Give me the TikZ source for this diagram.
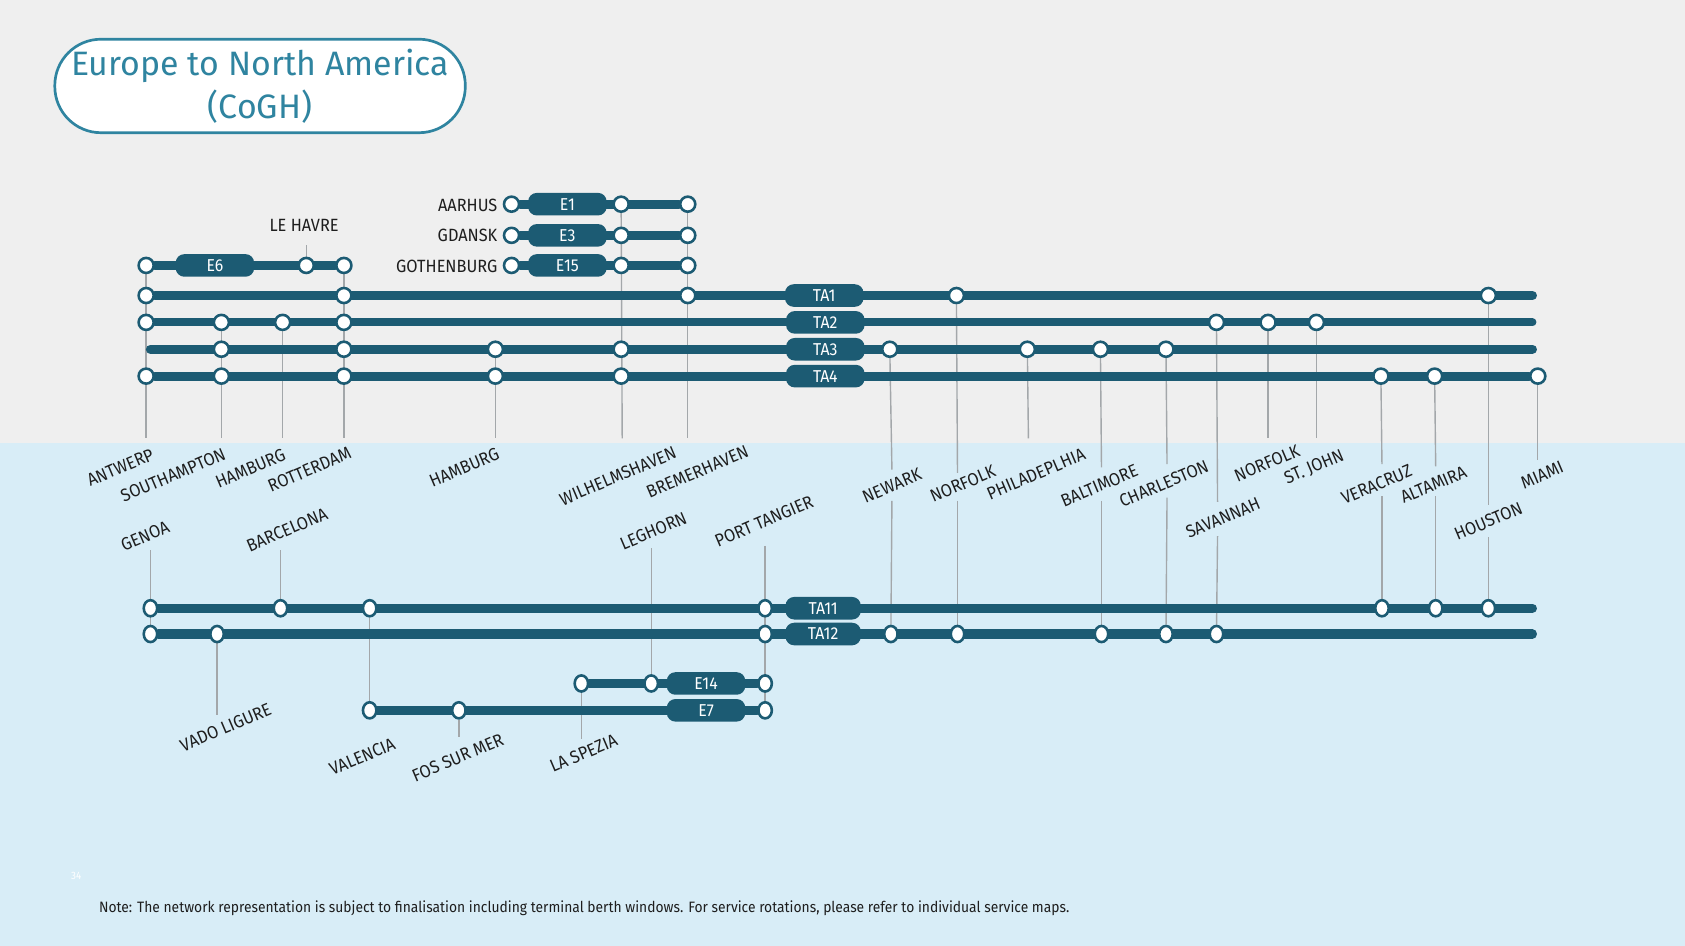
\documentclass[tikz,border=0pt]{standalone}
\usepackage{fontspec}
\setmainfont{Fira Sans}
\newfontfamily\condfont{Fira Sans}[FakeStretch=0.92]
\usetikzlibrary{shapes.geometric}

\definecolor{routeblue}{HTML}{1C5B73}
\definecolor{titleblue}{HTML}{2F84A0}
\definecolor{tickgray}{HTML}{A3A7AA}
\definecolor{portink}{HTML}{1E1E1E}
\definecolor{topgray}{HTML}{EFEFEF}
\definecolor{seablue}{HTML}{D8EDF7}

\pgfdeclarelayer{bg}
\pgfsetlayers{bg,main}

\tikzset{
  stop/.style={circle, draw=routeblue, fill=white, line width=2.4pt, minimum size=14pt, inner sep=0pt},
  lowstop/.style={ellipse, draw=routeblue, fill=white, line width=2.4pt, minimum width=12.5pt, minimum height=15pt, inner sep=0pt},
  route/.style={routeblue, line width=8.5pt, line cap=round},
  tick/.style={tickgray, line width=1.3pt},
  tag/.style={fill=routeblue, text=white, rounded corners=8pt, minimum width=73pt, minimum height=21pt, inner sep=0pt, font=\condfont\fontsize{16}{16}\selectfont},
  port/.style={rotate=23, text=portink, inner sep=0pt, font=\condfont\fontsize{16.5}{17}\selectfont},
  portflat/.style={text=portink, inner sep=0pt, font=\condfont\fontsize{16.5}{17}\selectfont},
}

\begin{document}
\begin{tikzpicture}[x=1pt, y=-1pt]
  \useasboundingbox (0,0) rectangle (1568,880);

  % title
  \node[draw=titleblue, line width=2.5pt, rounded corners=43pt, fill=white, minimum width=382pt, minimum height=87pt,
        align=center, text=titleblue, font=\fontsize{31.5}{40}\selectfont] (title) at (242,80) {Europe to North America\\(CoGH)};

  % northern feeders
  \foreach \n/\x in {aarhus/476, wilhelmshaven/578, bremerhaven/640} {
    \node[stop] (e1-\n) at (\x,190) {};
    \node[stop] (e3-\n) at (\x,219) {};
    \node[stop] (e15-\n) at (\x,247) {};
  }
  \node[tag] (e1-tag) at (528,190) {E1};
  \node[tag] (e3-tag) at (528,219) {E3};
  \node[tag] (e15-tag) at (528,247) {E15};
  \node[portflat, anchor=east] (l-aarhus) at (463,191) {AARHUS};
  \node[portflat, anchor=east] (l-gdansk) at (463,219) {GDANSK};
  \node[portflat, anchor=east] (l-gothenburg) at (463,248) {GOTHENBURG};

  \foreach \n/\x in {antwerp/136, lehavre/285, rotterdam/320}
    \node[stop] (e6-\n) at (\x,247) {};
  \node[tag] (e6-tag) at (200,247) {E6};
  \node[portflat] (l-lehavre) at (283,210) {LE HAVRE};

  % transatlantic loops
  \foreach \n/\x in {antwerp/136, rotterdam/320, bremerhaven/640, norfolk/890, houston/1385}
    \node[stop] (ta1-\n) at (\x,275) {};
  \foreach \n/\x in {antwerp/136, southampton/206, hamburg/263, rotterdam/320, savannah/1132, norfolk/1180, stjohn/1225}
    \node[stop] (ta2-\n) at (\x,300) {};
  \foreach \n/\x in {southampton/206, rotterdam/320, hamburg/461, wilhelmshaven/578, newark/828, philadelphia/956, baltimore/1024, charleston/1085}
    \node[stop] (ta3-\n) at (\x,325) {};
  \foreach \n/\x in {antwerp/136, southampton/206, rotterdam/320, hamburg/461, wilhelmshaven/578, veracruz/1285, altamira/1335, miami/1431}
    \node[stop] (ta4-\n) at (\x,350) {};
  \node[tag] (ta1-tag) at (767,275) {TA1};
  \node[tag] (ta2-tag) at (768,300) {TA2};
  \node[tag] (ta3-tag) at (768,325) {TA3};
  \node[tag] (ta4-tag) at (768,350) {TA4};

  % mediterranean loops
  \foreach \n/\x in {genoa/140, barcelona/261, valencia/344, tangier/712, veracruz/1286, altamira/1336, houston/1385}
    \node[lowstop] (ta11-\n) at (\x,566) {};
  \foreach \n/\x in {genoa/140, vado/202, tangier/712, newark/829, norfolk/891, baltimore/1025, charleston/1085, savannah/1132}
    \node[lowstop] (ta12-\n) at (\x,590) {};
  \foreach \n/\x in {laspezia/541, leghorn/606, tangier/712}
    \node[lowstop] (e14-\n) at (\x,636) {};
  \foreach \n/\x in {valencia/344, fos/427, tangier/712}
    \node[lowstop] (e7-\n) at (\x,661) {};
  \node[tag, minimum width=70pt] (ta11-tag) at (766,566) {TA11};
  \node[tag, minimum width=70pt] (ta12-tag) at (766,590) {TA12};
  \node[tag] (e14-tag) at (657,636) {E14};
  \node[tag] (e7-tag) at (657,661) {E7};

  % port names
  \node[port] (l-antwerp) at (112,435) {ANTWERP};
  \node[port] (l-southampton) at (161,442) {SOUTHAMPTON};
  \node[port] (l-hamburg) at (233,436) {HAMBURG};
  \node[port] (l-rotterdam) at (288,437) {ROTTERDAM};
  \node[port] (l-hamburg2) at (432,435) {HAMBURG};
  \node[port] (l-wilhelmshaven) at (575,443) {WILHELMSHAVEN};
  \node[port] (l-bremerhaven) at (649,439) {BREMERHAVEN};
  \node[port] (l-newark) at (830,452) {NEWARK};
  \node[port] (l-norfolk) at (896,450) {NORFOLK};
  \node[port] (l-philadelphia) at (964,441) {PHILADEPLHIA};
  \node[port] (l-baltimore) at (1023,452) {BALTIMORE};
  \node[port] (l-charleston) at (1083,450) {CHARLESTON};
  \node[port] (l-savannah) at (1138,482) {SAVANNAH};
  \node[port] (l-norfolk2) at (1179,431) {NORFOLK};
  \node[port] (l-stjohn) at (1223,435) {ST. JOHN};
  \node[port] (l-veracruz) at (1281,451) {VERACRUZ};
  \node[port] (l-altamira) at (1334,451) {ALTAMIRA};
  \node[port] (l-houston) at (1385,485) {HOUSTON};
  \node[port] (l-miami) at (1435,442) {MIAMI};
  \node[port] (l-genoa) at (135,499) {GENOA};
  \node[port] (l-barcelona) at (267,493) {BARCELONA};
  \node[port] (l-leghorn) at (608,494) {LEGHORN};
  \node[port] (l-tangier) at (711,485) {PORT TANGIER};
  \node[port] (l-vado) at (210,677) {VADO LIGURE};
  \node[port] (l-valencia) at (337,704) {VALENCIA};
  \node[port] (l-fos) at (426,705) {FOS SUR MER};
  \node[port] (l-laspezia) at (543,701) {LA SPEZIA};

  \node[text=white, font=\condfont\fontsize{10}{10}\selectfont] (pageno) at (71,815) {34};
  \node[anchor=west, text=portink, inner sep=0pt, font=\condfont\fontsize{14}{15}\selectfont] (note) at (92,845)
    {Note: The network representation is subject to finalisation including terminal berth windows. For service rotations, please refer to individual service maps.};

  % free ends of ticks and routes
  \foreach \n/\x in {antwerp/136, southampton/206, hamburg/263, rotterdam/320, hamburg2/461, wilhelmshaven/579,
                     bremerhaven/640, philadelphia/957, norfolk2/1180, stjohn/1225}
    \coordinate (\n-foot) at (\x,408);
  \coordinate (lehavre-head) at (285,228);
  \coordinate (newark-foot) at (830,437);    \coordinate (newark-head) at (830,466);
  \coordinate (norfolk-foot) at (891,440);   \coordinate (norfolk-head) at (891,466);
  \coordinate (baltimore-foot) at (1025,435); \coordinate (baltimore-head) at (1025,466);
  \coordinate (charleston-foot) at (1086,432); \coordinate (charleston-head) at (1086,463);
  \coordinate (savannah-foot) at (1133,467); \coordinate (savannah-head) at (1133,499);
  \coordinate (veracruz-foot) at (1286,432); \coordinate (veracruz-head) at (1286,462);
  \coordinate (altamira-foot) at (1336,434); \coordinate (altamira-head) at (1336,462);
  \coordinate (houston-foot) at (1385,470);  \coordinate (houston-head) at (1385,500);
  \coordinate (miami-foot) at (1431,428);
  \coordinate (genoa-head) at (140,512);
  \coordinate (barcelona-head) at (261,512);
  \coordinate (leghorn-head) at (606,510);
  \coordinate (tangier-head) at (712,508);
  \coordinate (vado-foot) at (202,665);
  \coordinate (fos-foot) at (427,686);
  \coordinate (laspezia-foot) at (541,688);
  \coordinate (ta1-end) at (1426,275);
  \coordinate (ta2-end) at (1426,300);
  \coordinate (ta3-start) at (140,325);
  \coordinate (ta3-end) at (1426,325);
  \coordinate (ta11-end) at (1426,566);
  \coordinate (ta12-end) at (1426,590);

  \begin{pgfonlayer}{bg}
    \fill[topgray] (0,0) rectangle (1568,412);
    \fill[seablue] (0,412) rectangle (1568,880);

    % ticks
    \draw[tick] (e6-antwerp) -- (antwerp-foot);
    \draw[tick] (ta2-southampton) -- (southampton-foot);
    \draw[tick] (ta2-hamburg) -- (hamburg-foot);
    \draw[tick] (e6-rotterdam) -- (rotterdam-foot);
    \draw[tick] (lehavre-head) -- (e6-lehavre);
    \draw[tick] (ta3-hamburg) -- (hamburg2-foot);
    \draw[tick] (e1-wilhelmshaven) -- (wilhelmshaven-foot);
    \draw[tick] (e1-bremerhaven) -- (bremerhaven-foot);
    \draw[tick] (ta3-newark) -- (newark-foot);
    \draw[tick] (newark-head) -- (ta12-newark);
    \draw[tick] (ta1-norfolk) -- (norfolk-foot);
    \draw[tick] (norfolk-head) -- (ta12-norfolk);
    \draw[tick] (ta3-philadelphia) -- (philadelphia-foot);
    \draw[tick] (ta3-baltimore) -- (baltimore-foot);
    \draw[tick] (baltimore-head) -- (ta12-baltimore);
    \draw[tick] (ta3-charleston) -- (charleston-foot);
    \draw[tick] (charleston-head) -- (ta12-charleston);
    \draw[tick] (ta2-savannah) -- (savannah-foot);
    \draw[tick] (savannah-head) -- (ta12-savannah);
    \draw[tick] (ta2-norfolk) -- (norfolk2-foot);
    \draw[tick] (ta2-stjohn) -- (stjohn-foot);
    \draw[tick] (ta4-veracruz) -- (veracruz-foot);
    \draw[tick] (veracruz-head) -- (ta11-veracruz);
    \draw[tick] (ta4-altamira) -- (altamira-foot);
    \draw[tick] (altamira-head) -- (ta11-altamira);
    \draw[tick] (ta1-houston) -- (houston-foot);
    \draw[tick] (houston-head) -- (ta11-houston);
    \draw[tick] (ta4-miami) -- (miami-foot);
    \draw[tick] (genoa-head) -- (ta12-genoa);
    \draw[tick] (barcelona-head) -- (ta11-barcelona);
    \draw[tick] (ta11-valencia) -- (e7-valencia);
    \draw[tick] (ta12-vado) -- (vado-foot);
    \draw[tick] (leghorn-head) -- (e14-leghorn);
    \draw[tick] (tangier-head) -- (e7-tangier);
    \draw[tick] (e7-fos) -- (fos-foot);
    \draw[tick] (e14-laspezia) -- (laspezia-foot);

    % services
    \draw[route] (e1-aarhus) -- (e1-bremerhaven);
    \draw[route] (e3-aarhus) -- (e3-bremerhaven);
    \draw[route] (e15-aarhus) -- (e15-bremerhaven);
    \draw[route] (e6-antwerp) -- (e6-rotterdam);
    \draw[route] (ta1-antwerp) -- (ta1-end);
    \draw[route, line width=7.5pt] (ta2-antwerp) -- (ta2-end);
    \draw[route] (ta3-start) -- (ta3-end);
    \draw[route] (ta4-antwerp) -- (ta4-miami);
    \draw[route] (ta11-genoa) -- (ta11-end);
    \draw[route] (ta12-genoa) -- (ta12-end);
    \draw[route] (e14-laspezia) -- (e14-tangier);
    \draw[route] (e7-valencia) -- (e7-tangier);
  \end{pgfonlayer}
\end{tikzpicture}
\end{document}
